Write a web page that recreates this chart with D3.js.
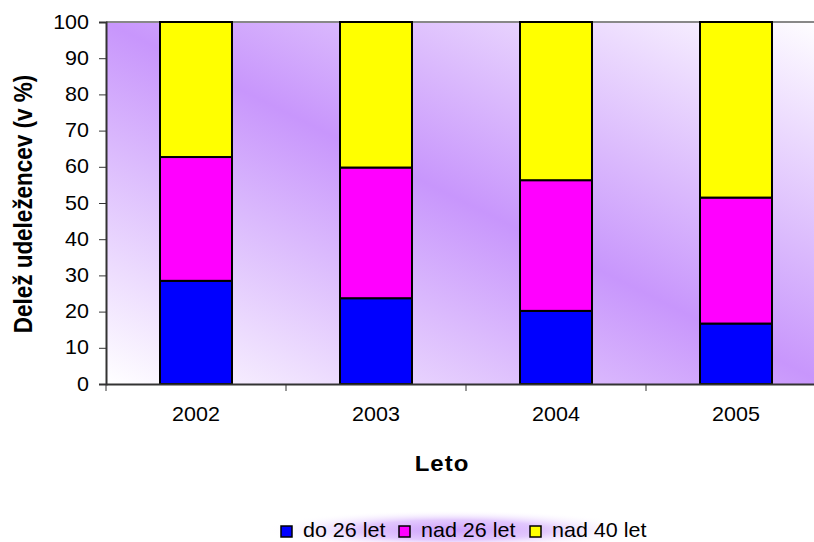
<!DOCTYPE html>
<html>
<head>
<meta charset="utf-8">
<script src="https://cdn.jsdelivr.net/npm/d3@7"></script>
<style>
  body { margin: 0; background: #fff; }
  svg text { font-family: "Liberation Sans", Arial, sans-serif; fill: #000; }
</style>
</head>
<body>
<div id="chart"></div>
<script>
// podatki
var years = ["2002", "2003", "2004", "2005"];
var groups = ["do 26 let", "nad 26 let", "nad 40 let"];
var do26 = [28.5, 23.7, 20.2, 16.7];
var nad26 = [34.2, 36.1, 36.1, 34.8];
var nad40 = [37.3, 40.2, 43.7, 48.5];
var yTicks = [0, 10, 20, 30, 40, 50, 60, 70, 80, 90, 100];
var colors = ["#0000ff", "#ff00ff", "#ffff00"];

var width = 814, height = 542;
var margin = {top: 22, left: 106, right: -12, bottom: 158};
var plotW = width - margin.left - margin.right;
var plotH = height - margin.top - margin.bottom;
var squash = "scale(1,0.9)";   // tekst je v originalu nekoliko sploscen

var svg = d3.select("#chart").append("svg")
    .attr("width", width)
    .attr("height", height);

var defs = svg.append("defs");
var bg = defs.append("linearGradient")
    .attr("id", "bg")
    .attr("x1", 0).attr("y1", 1).attr("x2", 1).attr("y2", 0);
bg.append("stop").attr("offset", 0).attr("stop-color", "#ffffff");
bg.append("stop").attr("offset", 0.5).attr("stop-color", "#c896fc");
bg.append("stop").attr("offset", 1).attr("stop-color", "#ffffff");

var glow = defs.append("radialGradient").attr("id", "glow");
glow.append("stop").attr("offset", 0).attr("stop-color", "#cfa2fc");
glow.append("stop").attr("offset", 0.5).attr("stop-color", "#e2c8fd");
glow.append("stop").attr("offset", 1).attr("stop-color", "#ffffff").attr("stop-opacity", 0);

var g = svg.append("g")
    .attr("transform", "translate(" + margin.left + "," + margin.top + ")");

var xScale = d3.scaleBand()
    .domain(years)
    .range([0, plotW])
    .paddingInner(0.6)
    .paddingOuter(0.3);

var yScale = d3.scaleLinear()
    .domain([0, 100])
    .range([plotH, 0]);

// ozadje
g.append("rect")
    .attr("width", plotW)
    .attr("height", plotH)
    .attr("fill", "url(#bg)");

g.append("line")
    .attr("x1", 0).attr("x2", plotW)
    .attr("y1", 0).attr("y2", 0)
    .attr("stroke", "#888").attr("stroke-width", 2);

// stolpci
var table = years.map(function(y, i) {
  return {year: y, "do 26 let": do26[i], "nad 26 let": nad26[i], "nad 40 let": nad40[i]};
});
var stacked = d3.stack().keys(groups)(table);

g.selectAll("g.layer")
    .data(stacked)
    .enter().append("g")
    .attr("class", "layer")
    .attr("fill", function(d, i) { return colors[i]; })
  .selectAll("rect")
    .data(function(d) { return d; })
    .enter().append("rect")
    .attr("x", function(d) { return xScale(d.data.year); })
    .attr("y", function(d) { return yScale(d[1]); })
    .attr("width", xScale.bandwidth())
    .attr("height", function(d) { return yScale(d[0]) - yScale(d[1]); })
    .attr("stroke", "#000")
    .attr("stroke-width", 2);

// y os
var yAxis = g.append("g")
    .call(d3.axisLeft(yScale).tickValues(yTicks).tickSize(7).tickPadding(10));
yAxis.select(".domain").attr("stroke", "#333").attr("stroke-width", 2);
yAxis.selectAll(".tick line").attr("stroke", "#333");
yAxis.selectAll("text")
    .style("font-size", "21.5px")
    .attr("transform", squash);

// x os
var xAxis = g.append("g")
    .attr("transform", "translate(0," + plotH + ")")
    .call(d3.axisBottom(xScale).tickSize(0));
xAxis.select(".domain").attr("stroke", "#333").attr("stroke-width", 2);
xAxis.selectAll("text")
    .style("font-size", "21.5px")
    .attr("y", 41).attr("dy", 0)
    .attr("transform", squash);
xAxis.selectAll("line.sep")
    .data(d3.range(years.length + 1))
    .enter().append("line")
    .attr("class", "sep")
    .attr("x1", function(i) { return i * plotW / years.length; })
    .attr("x2", function(i) { return i * plotW / years.length; })
    .attr("y1", 0).attr("y2", 7)
    .attr("stroke", "#333");

// naslovi osi
svg.append("text")
    .attr("transform", "translate(32,204) " + squash + " rotate(-90)")
    .attr("text-anchor", "middle")
    .style("font-size", "25px")
    .style("font-weight", "bold")
    .text("Delež udeležencev (v %)");

svg.append("text")
    .attr("transform", "translate(442,471) " + squash)
    .attr("text-anchor", "middle")
    .style("font-size", "24px")
    .style("font-weight", "bold")
    .style("letter-spacing", "1px")
    .text("Leto");

// legenda
svg.append("ellipse")
    .attr("cx", 452).attr("cy", 530)
    .attr("rx", 188).attr("ry", 20)
    .attr("fill", "url(#glow)");

var legendX = [281, 399, 530];
var legend = svg.append("g").selectAll("g")
    .data(groups)
    .enter().append("g")
    .attr("transform", function(d, i) { return "translate(" + legendX[i] + ",526)"; });
legend.append("rect")
    .attr("width", 11).attr("height", 11)
    .attr("fill", function(d, i) { return colors[i]; })
    .attr("stroke", "#000").attr("stroke-width", 1.5);
legend.append("text")
    .attr("transform", "translate(22,11) " + squash)
    .style("font-size", "21.5px")
    .text(function(d) { return d; });
</script>
</body>
</html>
